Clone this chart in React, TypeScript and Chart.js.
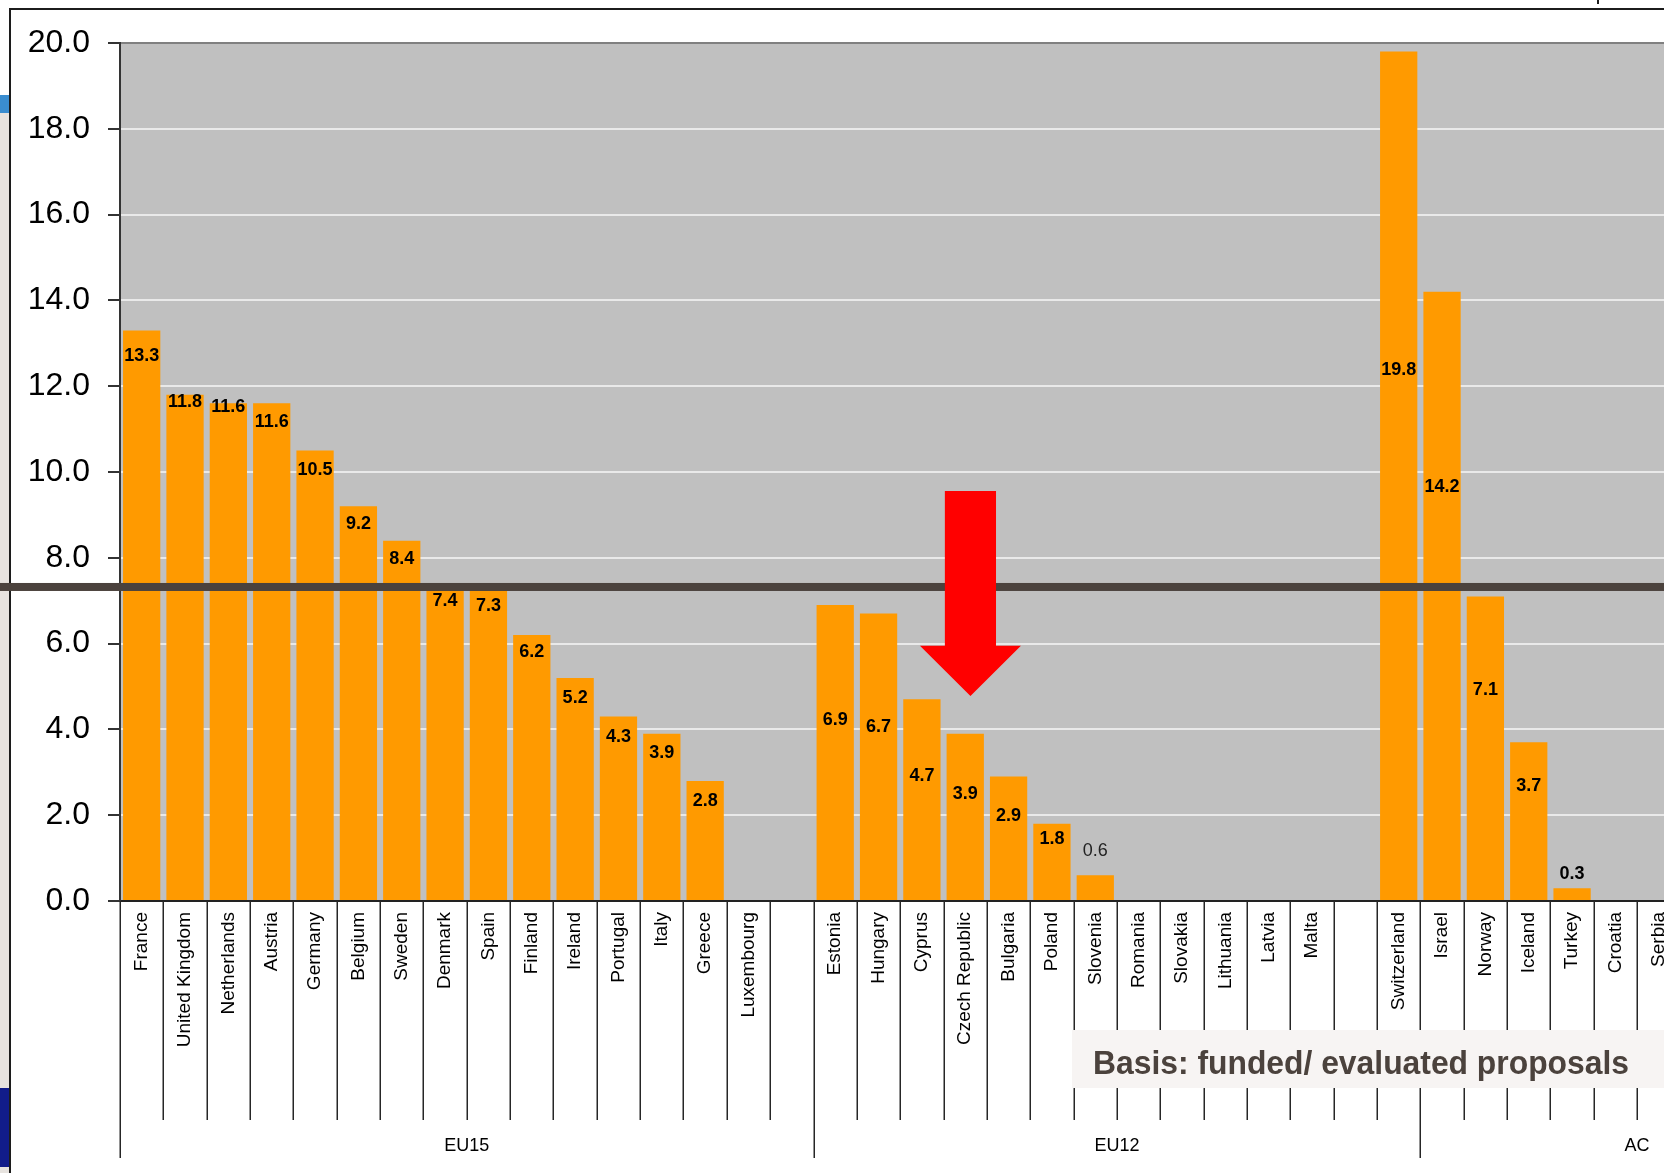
import { useEffect, useRef } from 'react';
import { Chart, registerables } from 'chart.js';

Chart.register(...registerables);

// ---- data ----
const countries: string[] = [
  'France', 'United Kingdom', 'Netherlands', 'Austria', 'Germany', 'Belgium', 'Sweden', 'Denmark',
  'Spain', 'Finland', 'Ireland', 'Portugal', 'Italy', 'Greece', 'Luxembourg', '',
  'Estonia', 'Hungary', 'Cyprus', 'Czech Republic', 'Bulgaria', 'Poland', 'Slovenia', 'Romania',
  'Slovakia', 'Lithuania', 'Latvia', 'Malta', '', 'Switzerland',
  'Israel', 'Norway', 'Iceland', 'Turkey', 'Croatia', 'Serbia', '', '', '', '',
];

const successRate: (number | null)[] = [
  13.3, 11.8, 11.6, 11.6, 10.5, 9.2, 8.4, 7.4, 7.3, 6.2, 5.2, 4.3, 3.9, 2.8, 0, null,
  6.9, 6.7, 4.7, 3.9, 2.9, 1.8, 0.6, 0, 0, 0, 0, 0, null, 19.8,
  14.2, 7.1, 3.7, 0.3, 0, 0, null, null, null, null,
];

// vertical position (in axis units) at which each value label sits
const labelAt: (number | null)[] = [
  12.7, 11.62, 11.52, 11.17, 10.04, 8.78, 7.97, 7.0, 6.88, 5.81, 4.72, 3.83, 3.44, 2.33, null, null,
  4.23, 4.06, 2.92, 2.5, 1.98, 1.44, 1.17, null, null, null, null, null, null, 12.38,
  9.66, 4.92, 2.67, 0.63, null, null, null, null, null, null,
];

const plainLabelCountries: string[] = ['Slovenia'];

const groupNames: string[] = ['EU15', 'EU12', 'AC'];
const groupSizes: number[] = [16, 14, 10];

const yTicks: number[] = [0, 2, 4, 6, 8, 10, 12, 14, 16, 18, 20];

const referenceLevel = 7.32;
const arrowCategory = 19.12;
const arrowTopValue = 9.56;
const arrowHeadValue = 5.95;
const arrowTipValue = 4.78;

const caption = 'Basis: funded/ evaluated proposals';

const FONT = "'Liberation Sans', Arial, Helvetica, sans-serif";

const decorPlugin = {
  id: 'decor',
  beforeDraw(chart: any) {
    const { ctx, chartArea: ca } = chart;
    ctx.save();
    ctx.fillStyle = '#ffffff';
    ctx.fillRect(0, 0, chart.width, chart.height);
    // left strip of the page behind the slide
    ctx.fillStyle = '#e7e3df';
    ctx.fillRect(0, 113, 9, 1173 - 113);
    ctx.fillStyle = '#3a8dd0';
    ctx.fillRect(0, 95, 9, 18);
    ctx.fillStyle = '#111c8a';
    ctx.fillRect(0, 1088, 9, 79);
    // frame
    ctx.fillStyle = '#1c1c1c';
    ctx.fillRect(9, 8, 2, chart.height - 8);
    ctx.fillRect(9, 8, chart.width, 2);
    ctx.fillRect(1597, 0, 2, 4);
    // plot background
    ctx.fillStyle = '#c0c0c0';
    ctx.fillRect(ca.left, ca.top, ca.right - ca.left, ca.bottom - ca.top);
    ctx.restore();
  },
  afterDraw(chart: any) {
    const { ctx, chartArea: ca } = chart;
    const xs = chart.scales.x;
    const ys = chart.scales.y;
    const slotW = xs.getPixelForValue(1) - xs.getPixelForValue(0);
    ctx.save();

    // value labels
    ctx.textAlign = 'center';
    ctx.textBaseline = 'middle';
    successRate.forEach((v, i) => {
      const pos = labelAt[i];
      if (v === null || v <= 0 || pos === null) return;
      const plain = plainLabelCountries.includes(countries[i]);
      ctx.font = `${plain ? 'normal' : 'bold'} 18px ${FONT}`;
      ctx.fillStyle = plain ? '#222222' : '#000000';
      ctx.fillText(v.toFixed(1), xs.getPixelForValue(i), ys.getPixelForValue(pos));
    });

    // category separators
    const groupBounds = new Set<number>();
    let acc = 0;
    groupBounds.add(0);
    groupSizes.forEach((g) => { acc += g; groupBounds.add(acc); });
    ctx.strokeStyle = '#262626';
    ctx.lineWidth = 1.5;
    for (let i = 0; i <= countries.length; i++) {
      const x = Math.round(xs.getPixelForValue(i) - slotW / 2) + 0.25;
      const long = groupBounds.has(i);
      ctx.beginPath();
      ctx.moveTo(x, ca.bottom);
      ctx.lineTo(x, ca.bottom + (long ? 257 : 219));
      ctx.stroke();
    }

    // group labels
    ctx.font = `18px ${FONT}`;
    ctx.fillStyle = '#000000';
    ctx.textAlign = 'center';
    ctx.textBaseline = 'middle';
    let start = 0;
    groupNames.forEach((name, gi) => {
      const end = start + groupSizes[gi];
      const cx = (xs.getPixelForValue(start) + xs.getPixelForValue(end - 1)) / 2;
      ctx.fillText(name, cx, ca.bottom + 245);
      start = end;
    });

    // reference level line
    const ly = ys.getPixelForValue(referenceLevel);
    ctx.fillStyle = '#4b423d';
    ctx.fillRect(0, ly - 4, chart.width, 8);

    // red arrow
    const ax = xs.getPixelForValue(arrowCategory);
    const shaftHalf = slotW * 0.59;
    const headHalf = slotW * 1.165;
    const yTop = ys.getPixelForValue(arrowTopValue);
    const yHead = ys.getPixelForValue(arrowHeadValue);
    const yTip = ys.getPixelForValue(arrowTipValue);
    ctx.fillStyle = '#ff0000';
    ctx.beginPath();
    ctx.moveTo(ax - shaftHalf, yTop);
    ctx.lineTo(ax + shaftHalf, yTop);
    ctx.lineTo(ax + shaftHalf, yHead);
    ctx.lineTo(ax + headHalf, yHead);
    ctx.lineTo(ax, yTip);
    ctx.lineTo(ax - headHalf, yHead);
    ctx.lineTo(ax - shaftHalf, yHead);
    ctx.closePath();
    ctx.fill();

    // caption box
    ctx.fillStyle = '#f7f4f3';
    ctx.fillRect(1072, 1030, chart.width - 1072, 58);
    ctx.font = `bold 33px ${FONT}`;
    ctx.fillStyle = '#4b423d';
    ctx.textAlign = 'left';
    ctx.textBaseline = 'alphabetic';
    const w = ctx.measureText(caption).width;
    const target = 536;
    ctx.translate(1093, 1074);
    ctx.scale(target / w, 1);
    ctx.fillText(caption, 0, 0);
    ctx.restore();
  },
};

export default function App() {
  const ref = useRef<HTMLCanvasElement>(null);

  useEffect(() => {
    if (!ref.current) return;
    Chart.defaults.font.family = FONT;
    const chart = new Chart(ref.current, {
      type: 'bar',
      data: {
        labels: countries,
        datasets: [
          {
            data: successRate as any,
            backgroundColor: '#ff9a00',
            borderWidth: 0,
            categoryPercentage: 1,
            barPercentage: 0.86,
          },
        ],
      },
      options: {
        animation: false,
        responsive: false,
        devicePixelRatio: 1,
        layout: { padding: { top: 43, left: 0, right: 4, bottom: 0 } },
        plugins: { legend: { display: false }, tooltip: { enabled: false } },
        scales: {
          x: {
            type: 'category',
            offset: true,
            grid: { display: false, drawTicks: false },
            border: { display: true, color: '#222222', width: 2 },
            ticks: {
              autoSkip: false,
              maxRotation: 90,
              minRotation: 90,
              padding: 11,
              color: '#000000',
              font: { size: 19, family: FONT },
            },
            afterFit(s: any) { s.height = 272; },
          },
          y: {
            min: 0,
            max: 20,
            afterBuildTicks(s: any) { s.ticks = yTicks.map((v) => ({ value: v })); },
            ticks: {
              callback: (v: any) => Number(v).toFixed(1),
              color: '#000000',
              padding: 18,
              font: { size: 32, family: FONT },
            },
            grid: {
              color: (c: any) => (c.tick && c.tick.value === 20 ? '#808080' : c.tick && c.tick.value === 0 ? '#222222' : '#e9e9e9'),
              lineWidth: 2,
              tickColor: '#333333',
              tickLength: 12,
              drawTicks: true,
            },
            border: { display: true, color: '#333333', width: 2 },
            afterFit(s: any) { s.width = 120; },
          },
        },
      },
      plugins: [decorPlugin],
    });
    return () => chart.destroy();
  }, []);

  return (
    <div
      style={{
        position: 'fixed',
        left: 0,
        top: 0,
        width: 1664,
        height: 1173,
        overflow: 'hidden',
        background: '#ffffff',
      }}
    >
      <canvas ref={ref} width={1866} height={1173} style={{ display: 'block', width: 1866, height: 1173 }} />
    </div>
  );
}
